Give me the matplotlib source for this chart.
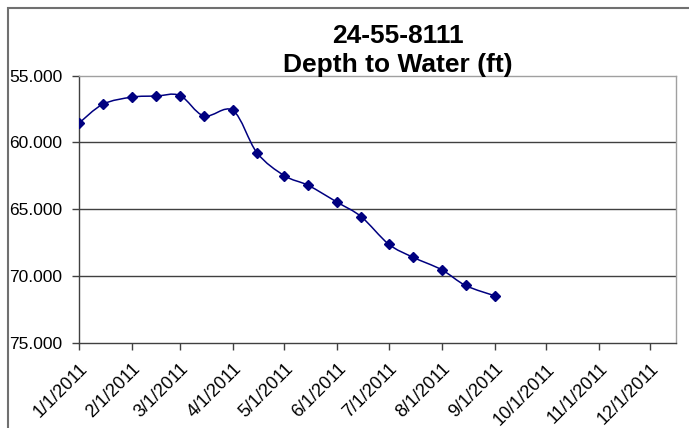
import matplotlib
matplotlib.use("Agg")
import matplotlib.pyplot as plt
import matplotlib.dates as mdates
from matplotlib.path import Path
from matplotlib.patches import PathPatch, Rectangle
import numpy as np
from datetime import datetime

plt.rcParams['font.family'] = ['Liberation Sans', 'DejaVu Sans']

# measurement dates and depth to water (ft)
dates = ["2011-01-01", "2011-01-15", "2011-02-01", "2011-02-15", "2011-03-01",
         "2011-03-15", "2011-04-01", "2011-04-15", "2011-05-01", "2011-05-15",
         "2011-06-01", "2011-06-15", "2011-07-01", "2011-07-15", "2011-08-01",
         "2011-08-15", "2011-09-01"]
depth = [58.57, 57.15, 56.62, 56.54, 56.5, 58.03, 57.62, 60.78, 62.5, 63.23,
         64.5, 65.58, 67.63, 68.6, 69.55, 70.73, 71.5]

tick_dates = ["2011-%02d-01" % m for m in range(1, 13)]
tick_labels = ["%d/1/2011" % m for m in range(1, 13)]
y_ticks = [55, 60, 65, 70, 75]
title = "24-55-8111\nDepth to Water (ft)"

navy = "#000080"


def smooth_path(xs, ys):
    # excel-like smoothed line: cubic bezier through every point
    pts = np.column_stack([xs, ys])
    n = len(pts)
    verts = [pts[0]]
    codes = [Path.MOVETO]
    for i in range(n - 1):
        p0 = pts[max(i - 1, 0)]
        p1 = pts[i]
        p2 = pts[i + 1]
        p3 = pts[min(i + 2, n - 1)]
        c1 = p1 + (p2 - p0) / 6.0
        c2 = p2 - (p3 - p1) / 6.0
        verts += [c1, c2, p2]
        codes += [Path.CURVE4] * 3
    return Path(verts, codes)


def main():
    fig = plt.figure(figsize=(6.89, 4.28), dpi=100)
    ax = fig.add_axes([79 / 689, 1 - 342.5 / 428, (676 - 79) / 689, (342.5 - 75.5) / 428])

    x = mdates.date2num([datetime.strptime(d, "%Y-%m-%d") for d in dates])
    xt = mdates.date2num([datetime.strptime(d, "%Y-%m-%d") for d in tick_dates])

    ax.add_patch(PathPatch(smooth_path(x, np.array(depth)), fill=False,
                           edgecolor=navy, lw=1.1, zorder=3))
    ax.plot(x, depth, linestyle="none", marker="D", ms=5.5, color=navy, zorder=4)

    ax.set_xlim(xt[0], xt[0] + 349)
    ax.set_ylim(75, 55)
    ax.set_yticks(y_ticks)
    ax.set_yticklabels(["%.3f" % v for v in y_ticks])
    ax.set_xticks(xt)
    ax.set_xticklabels(tick_labels, rotation=45, ha="right", rotation_mode="anchor")

    for v in [60, 65, 70]:
        ax.axhline(v, color="#404040", lw=1.0, zorder=1)

    ax.spines["left"].set_color("#404040")
    ax.spines["bottom"].set_color("#404040")
    ax.spines["top"].set_color("#a0a0a0")
    ax.spines["right"].set_color("#a0a0a0")
    for s in ax.spines.values():
        s.set_linewidth(1.0)

    ax.tick_params(axis="both", direction="out", length=5, width=1.0,
                   color="#404040", labelcolor="black")
    ax.tick_params(axis="y", pad=7, labelsize=12.5)
    ax.tick_params(axis="x", pad=8, labelsize=13)

    fig.text(398 / 689, 1 - 24 / 428, title, ha="center", va="top",
             fontsize=19, fontweight="bold", linespacing=1.25)

    # chart area border, cut by the picture edges
    fig.add_artist(Rectangle((7.5 / 689, -0.5), 2.0, 0.5 + 1 - 7.5 / 428,
                             transform=fig.transFigure, fill=False,
                             edgecolor="#707070", lw=1.5))

    fig.savefig("out.png", dpi=100)


if __name__ == "__main__":
    main()
